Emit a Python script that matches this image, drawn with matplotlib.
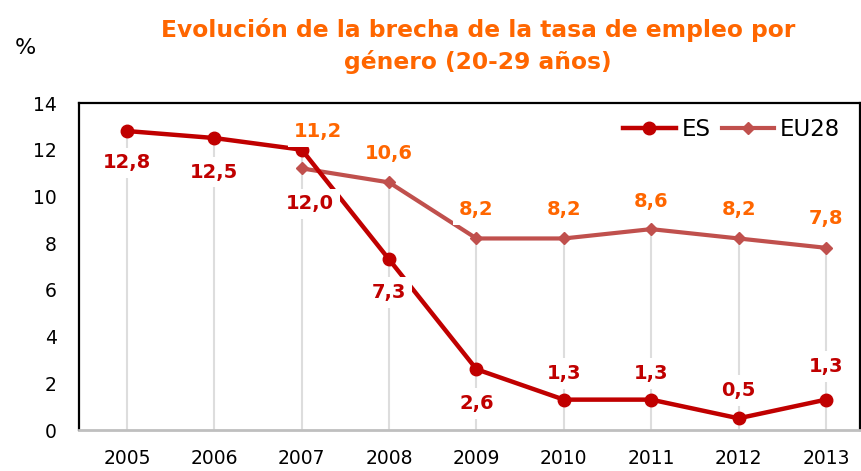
import numpy as np
import matplotlib.pyplot as plt

# -----------------------------
# Data
# -----------------------------
years = [2005, 2006, 2007, 2008, 2009, 2010, 2011, 2012, 2013]
es_values = [12.8, 12.5, 12.0, 7.3, 2.6, 1.3, 1.3, 0.5, 1.3]
eu_years = [2007, 2008, 2009, 2010, 2011, 2012, 2013]
eu_values = [11.2, 10.6, 8.2, 8.2, 8.6, 8.2, 7.8]

title = "Evolución de la brecha de la tasa de empleo por\ngénero (20-29 años)"
y_ticks = [0, 2, 4, 6, 8, 10, 12, 14]

# -----------------------------
# Label placement (offset in points from each marker)
# -----------------------------
es_label_dx = [0, 0, 6, 0, 0, 0, 0, 0, 0]
es_label_dy = [-23, -24.5, -39, -24, -24.5, 19, 19, 20, 24]
eu_label_dx = [12, 0, 0, 0, 0, 0, 0]
eu_label_dy = [26.5, 21, 21, 21, 20, 21, 21]

es_color = '#C00000'
eu_color = '#C0504D'
eu_label_color = '#FF6600'
title_color = '#FF6600'

plt.rcParams['font.family'] = ['DejaVu Sans']

fig = plt.figure(figsize=(8.62, 4.71), dpi=100)
ax = fig.add_axes([79 / 862, 1 - 430 / 471, (860 - 79) / 862, (430 - 103) / 471])

# drop lines from the highest point of each year
eu_map = dict(zip(eu_years, eu_values))
for yr, v in zip(years, es_values):
    top = max(v, eu_map.get(yr, v))
    ax.vlines(yr, 0, top, color='#DDDDDD', lw=1.5, zorder=1)

ax.plot(years, es_values, color=es_color, lw=3.2, marker='o', ms=9,
        label='ES', zorder=3)
ax.plot(eu_years, eu_values, color=eu_color, lw=3.0, marker='D', ms=6.5,
        label='EU28', zorder=2)

box = dict(boxstyle='square,pad=0.3', fc='white', ec='none')
for yr, v, dx, dy in zip(years, es_values, es_label_dx, es_label_dy):
    ax.annotate(f"{v:.1f}".replace('.', ','), (yr, v), xytext=(dx, dy),
                textcoords='offset points', ha='center', va='center',
                fontsize=14, fontweight='bold', color=es_color,
                bbox=box, zorder=5)
for yr, v, dx, dy in zip(eu_years, eu_values, eu_label_dx, eu_label_dy):
    ax.annotate(f"{v:.1f}".replace('.', ','), (yr, v), xytext=(dx, dy),
                textcoords='offset points', ha='center', va='center',
                fontsize=14, fontweight='bold', color=eu_label_color,
                bbox=box, zorder=5)

ax.set_xlim(2004.45, 2013.39)
ax.set_ylim(0, 14)
ax.set_xticks(years)
ax.set_yticks(y_ticks)
ax.tick_params(axis='both', length=0, labelsize=13.5)
ax.tick_params(axis='x', pad=14)
ax.tick_params(axis='y', pad=16)

for side in ['left', 'top', 'right']:
    ax.spines[side].set_color('black')
    ax.spines[side].set_linewidth(1.6)
ax.spines['bottom'].set_color('#BFBFBF')
ax.spines['bottom'].set_linewidth(2)

leg = ax.legend(loc='upper right', bbox_to_anchor=(0.975, 0.955), ncol=2,
                frameon=False, fontsize=16.5, handlelength=2.3,
                columnspacing=0.5, handletextpad=0.25, borderaxespad=0,
                borderpad=0)

fig.text(478 / 862, 1 - 46 / 471, title, ha='center', va='center',
         fontsize=16.8, fontweight='bold', color=title_color, linespacing=1.45)
fig.text(25 / 862, 1 - 48 / 471, '%', ha='center', va='center', fontsize=16)

fig.savefig('out.png', dpi=100)
